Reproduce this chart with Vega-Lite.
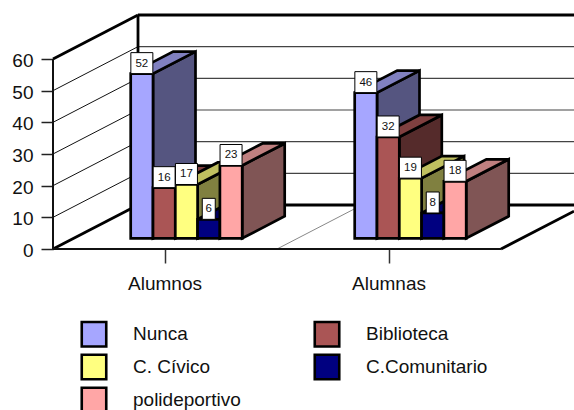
{
"$schema":"https://vega.github.io/schema/vega-lite/v6.json",
"width":574,"height":410,"padding":0,"autosize":{"type":"none"},
"background":"white",
"config":{"view":{"stroke":null},"font":"Liberation Sans"},
"datasets":{
"frameThick":[
{"x":53,"x2":138,"u":60,"u2":73.9},
{"x":138,"x2":574,"u":73.9,"u2":73.9},
{"x":138,"x2":138,"u":13.9,"u2":73.9},
{"x":53,"x2":138,"u":0,"u2":13.9},
{"x":138,"x2":574,"u":13.9,"u2":13.9},
{"x":501,"x2":574,"u":0,"u2":11.93}],
"frameMid":[
{"x":53,"x2":53,"u":0,"u2":60},
{"x":53,"x2":501,"u":0,"u2":0}],
"gridLeft":[
{"x":53,"x2":138,"u":10,"u2":23.9},
{"x":53,"x2":138,"u":20,"u2":33.9},
{"x":53,"x2":138,"u":30,"u2":43.9},
{"x":53,"x2":138,"u":40,"u2":53.9},
{"x":53,"x2":138,"u":50,"u2":63.9}],
"gridBack":[
{"x":138,"x2":574,"u":23.9,"u2":23.9},
{"x":138,"x2":574,"u":33.9,"u2":33.9},
{"x":138,"x2":574,"u":43.9,"u2":43.9},
{"x":138,"x2":574,"u":53.9,"u2":53.9},
{"x":138,"x2":574,"u":63.9,"u2":63.9}],
"divider":[{"x":277,"x2":362,"u":0,"u2":13.9}],
"faces":[
{"face":"o1s","surface":"Nunca lateral","k":1,"x":153.0,"u":55.38},{"face":"o1s","surface":"Nunca lateral","k":2,"x":195.5,"u":62.33},{"face":"o1s","surface":"Nunca lateral","k":3,"x":195.5,"u":10.33},{"face":"o1s","surface":"Nunca lateral","k":4,"x":153.0,"u":3.38},
{"face":"o1t","surface":"Nunca superior","k":1,"x":130.7,"u":55.38},{"face":"o1t","surface":"Nunca superior","k":2,"x":173.2,"u":62.33},{"face":"o1t","surface":"Nunca superior","k":3,"x":195.5,"u":62.33},{"face":"o1t","surface":"Nunca superior","k":4,"x":153.0,"u":55.38},
{"face":"o2s","surface":"Biblioteca lateral","k":1,"x":175.3,"u":19.38},{"face":"o2s","surface":"Biblioteca lateral","k":2,"x":217.8,"u":26.33},{"face":"o2s","surface":"Biblioteca lateral","k":3,"x":217.8,"u":10.33},{"face":"o2s","surface":"Biblioteca lateral","k":4,"x":175.3,"u":3.38},
{"face":"o2t","surface":"Biblioteca superior","k":1,"x":153.0,"u":19.38},{"face":"o2t","surface":"Biblioteca superior","k":2,"x":195.5,"u":26.33},{"face":"o2t","surface":"Biblioteca superior","k":3,"x":217.8,"u":26.33},{"face":"o2t","surface":"Biblioteca superior","k":4,"x":175.3,"u":19.38},
{"face":"o3s","surface":"C. Cívico lateral","k":1,"x":197.6,"u":20.38},{"face":"o3s","surface":"C. Cívico lateral","k":2,"x":240.1,"u":27.33},{"face":"o3s","surface":"C. Cívico lateral","k":3,"x":240.1,"u":10.33},{"face":"o3s","surface":"C. Cívico lateral","k":4,"x":197.6,"u":3.38},
{"face":"o3t","surface":"C. Cívico superior","k":1,"x":175.3,"u":20.38},{"face":"o3t","surface":"C. Cívico superior","k":2,"x":217.8,"u":27.33},{"face":"o3t","surface":"C. Cívico superior","k":3,"x":240.1,"u":27.33},{"face":"o3t","surface":"C. Cívico superior","k":4,"x":197.6,"u":20.38},
{"face":"o4s","surface":"C.Comunitario lateral","k":1,"x":219.9,"u":9.38},{"face":"o4s","surface":"C.Comunitario lateral","k":2,"x":262.4,"u":16.33},{"face":"o4s","surface":"C.Comunitario lateral","k":3,"x":262.4,"u":10.33},{"face":"o4s","surface":"C.Comunitario lateral","k":4,"x":219.9,"u":3.38},
{"face":"o4t","surface":"C.Comunitario superior","k":1,"x":197.6,"u":9.38},{"face":"o4t","surface":"C.Comunitario superior","k":2,"x":240.1,"u":16.33},{"face":"o4t","surface":"C.Comunitario superior","k":3,"x":262.4,"u":16.33},{"face":"o4t","surface":"C.Comunitario superior","k":4,"x":219.9,"u":9.38},
{"face":"o5s","surface":"polideportivo lateral","k":1,"x":242.2,"u":26.38},{"face":"o5s","surface":"polideportivo lateral","k":2,"x":284.7,"u":33.33},{"face":"o5s","surface":"polideportivo lateral","k":3,"x":284.7,"u":10.33},{"face":"o5s","surface":"polideportivo lateral","k":4,"x":242.2,"u":3.38},
{"face":"o5t","surface":"polideportivo superior","k":1,"x":219.9,"u":26.38},{"face":"o5t","surface":"polideportivo superior","k":2,"x":262.4,"u":33.33},{"face":"o5t","surface":"polideportivo superior","k":3,"x":284.7,"u":33.33},{"face":"o5t","surface":"polideportivo superior","k":4,"x":242.2,"u":26.38},
{"face":"a1s","surface":"Nunca lateral","k":1,"x":377.0,"u":49.38},{"face":"a1s","surface":"Nunca lateral","k":2,"x":419.5,"u":56.33},{"face":"a1s","surface":"Nunca lateral","k":3,"x":419.5,"u":10.33},{"face":"a1s","surface":"Nunca lateral","k":4,"x":377.0,"u":3.38},
{"face":"a1t","surface":"Nunca superior","k":1,"x":354.7,"u":49.38},{"face":"a1t","surface":"Nunca superior","k":2,"x":397.2,"u":56.33},{"face":"a1t","surface":"Nunca superior","k":3,"x":419.5,"u":56.33},{"face":"a1t","surface":"Nunca superior","k":4,"x":377.0,"u":49.38},
{"face":"a2s","surface":"Biblioteca lateral","k":1,"x":399.3,"u":35.38},{"face":"a2s","surface":"Biblioteca lateral","k":2,"x":441.8,"u":42.33},{"face":"a2s","surface":"Biblioteca lateral","k":3,"x":441.8,"u":10.33},{"face":"a2s","surface":"Biblioteca lateral","k":4,"x":399.3,"u":3.38},
{"face":"a2t","surface":"Biblioteca superior","k":1,"x":377.0,"u":35.38},{"face":"a2t","surface":"Biblioteca superior","k":2,"x":419.5,"u":42.33},{"face":"a2t","surface":"Biblioteca superior","k":3,"x":441.8,"u":42.33},{"face":"a2t","surface":"Biblioteca superior","k":4,"x":399.3,"u":35.38},
{"face":"a3s","surface":"C. Cívico lateral","k":1,"x":421.6,"u":22.38},{"face":"a3s","surface":"C. Cívico lateral","k":2,"x":464.1,"u":29.33},{"face":"a3s","surface":"C. Cívico lateral","k":3,"x":464.1,"u":10.33},{"face":"a3s","surface":"C. Cívico lateral","k":4,"x":421.6,"u":3.38},
{"face":"a3t","surface":"C. Cívico superior","k":1,"x":399.3,"u":22.38},{"face":"a3t","surface":"C. Cívico superior","k":2,"x":441.8,"u":29.33},{"face":"a3t","surface":"C. Cívico superior","k":3,"x":464.1,"u":29.33},{"face":"a3t","surface":"C. Cívico superior","k":4,"x":421.6,"u":22.38},
{"face":"a4s","surface":"C.Comunitario lateral","k":1,"x":443.9,"u":11.38},{"face":"a4s","surface":"C.Comunitario lateral","k":2,"x":486.4,"u":18.33},{"face":"a4s","surface":"C.Comunitario lateral","k":3,"x":486.4,"u":10.33},{"face":"a4s","surface":"C.Comunitario lateral","k":4,"x":443.9,"u":3.38},
{"face":"a4t","surface":"C.Comunitario superior","k":1,"x":421.6,"u":11.38},{"face":"a4t","surface":"C.Comunitario superior","k":2,"x":464.1,"u":18.33},{"face":"a4t","surface":"C.Comunitario superior","k":3,"x":486.4,"u":18.33},{"face":"a4t","surface":"C.Comunitario superior","k":4,"x":443.9,"u":11.38},
{"face":"a5s","surface":"polideportivo lateral","k":1,"x":466.2,"u":21.38},{"face":"a5s","surface":"polideportivo lateral","k":2,"x":508.7,"u":28.33},{"face":"a5s","surface":"polideportivo lateral","k":3,"x":508.7,"u":10.33},{"face":"a5s","surface":"polideportivo lateral","k":4,"x":466.2,"u":3.38},
{"face":"a5t","surface":"polideportivo superior","k":1,"x":443.9,"u":21.38},{"face":"a5t","surface":"polideportivo superior","k":2,"x":486.4,"u":28.33},{"face":"a5t","surface":"polideportivo superior","k":3,"x":508.7,"u":28.33},{"face":"a5t","surface":"polideportivo superior","k":4,"x":466.2,"u":21.38}
],
"bars":[
{"group":"Alumnos","series":"Nunca","value":52},
{"group":"Alumnos","series":"Biblioteca","value":16},
{"group":"Alumnos","series":"C. Cívico","value":17},
{"group":"Alumnos","series":"C.Comunitario","value":6},
{"group":"Alumnos","series":"polideportivo","value":23},
{"group":"Alumnas","series":"Nunca","value":46},
{"group":"Alumnas","series":"Biblioteca","value":32},
{"group":"Alumnas","series":"C. Cívico","value":19},
{"group":"Alumnas","series":"C.Comunitario","value":8},
{"group":"Alumnas","series":"polideportivo","value":18}
]},
"layer":[
{"encoding":{
  "x":{"field":"x","type":"quantitative","scale":{"domain":[0,574],"range":[0,574],"nice":false,"zero":false},"axis":null},
  "x2":{"field":"x2"},
  "y":{"field":"u","type":"quantitative","scale":{"domain":[-50.84,78.63],"range":[410,0],"nice":false,"zero":false},
    "axis":{"values":[0,10,20,30,40,50,60],"offset":-53,"grid":false,"domain":false,"title":null,"tickSize":12,"tickWidth":1.5,"tickColor":"#222","labelFontSize":19,"labelColor":"#111","labelPadding":8,"labelOffset":1.5,"labelFont":"Liberation Sans"}},
  "y2":{"field":"u2"}},
 "layer":[
  {"data":{"name":"divider"},"mark":{"type":"rule","stroke":"#888","strokeWidth":1}},
  {"data":{"name":"gridBack"},"mark":{"type":"rule","stroke":"#444","strokeWidth":1.2}},
  {"data":{"name":"gridLeft"},"mark":{"type":"rule","stroke":"#111","strokeWidth":1}},
  {"data":{"name":"frameThick"},"mark":{"type":"rule","stroke":"black","strokeWidth":2.8}},
  {"data":{"name":"frameMid"},"mark":{"type":"rule","stroke":"#111","strokeWidth":2}},
  {"data":{"name":"faces"},
   "mark":{"type":"line","stroke":"black","strokeWidth":2.7,"interpolate":"linear-closed","strokeJoin":"miter"},
   "encoding":{
    "x":{"field":"x","type":"quantitative"},
    "x2":null,"y2":null,
    "y":{"field":"u","type":"quantitative"},
    "detail":{"field":"face"},
    "order":{"field":"k","type":"quantitative"},
    "fill":{"field":"surface","type":"nominal","legend":null,"scale":{
      "domain":["Nunca lateral","Nunca superior","Biblioteca lateral","Biblioteca superior","C. Cívico lateral","C. Cívico superior","C.Comunitario lateral","C.Comunitario superior","polideportivo lateral","polideportivo superior"],
      "range":["#555580","#8080C0","#552B2B","#804040","#808040","#C0C060","#000040","#000060","#805555","#C08080"]}}
   }}
 ]},
{"data":{"name":"bars"},
 "encoding":{
  "x":{"field":"group","type":"nominal","sort":["Alumnos","Alumnas"],
    "scale":{"type":"band","domain":["Alumnos","Alumnas"],"range":[53,501],"paddingInner":0,"paddingOuter":0},
    "axis":{"orient":"bottom","offset":-161,"domain":false,"grid":false,"title":null,"tickSize":14,"tickWidth":1.5,"tickColor":"#333","labelAngle":0,"labelFontSize":19,"labelColor":"#111","labelPadding":11,"labelFont":"Liberation Sans"}},
  "xOffset":{"field":"series","type":"nominal","scale":{"type":"band","domain":["Nunca","Biblioteca","C. Cívico","C.Comunitario","polideportivo"],"range":[77.7,189.2],"paddingInner":0,"paddingOuter":0}},
  "y":{"field":"value","type":"quantitative","scale":{"domain":[-54.2,75.25],"range":[410,0],"nice":false,"zero":false},"axis":null}},
 "layer":[
  {"mark":{"type":"bar","stroke":"black","strokeWidth":2.7},
   "encoding":{"y2":{"datum":0},"fill":{"field":"series","type":"nominal","scale":{
     "domain":["Nunca","Biblioteca","C. Cívico","C.Comunitario","polideportivo"],
     "range":["#A6A6FF","#AA5555","#FFFF80","#000080","#FFA6A6"]},
     "legend":{"orient":"none","legendX":80,"legendY":320,"direction":"horizontal","columns":2,"title":null,"symbolType":"square","symbolSize":600,"symbolStrokeColor":"black","symbolStrokeWidth":2.6,"symbolOpacity":1,"labelFontSize":19,"labelColor":"#111","labelFont":"Liberation Sans","labelOffset":25,"rowPadding":-3,"columnPadding":68,"labelLimit":200}}}},
  {"transform":[{"filter":"datum.value>=10"}],"mark":{"type":"rect","fill":"white","stroke":"black","strokeWidth":1,"width":22,"height":21,"yOffset":-10.5}},
  {"transform":[{"filter":"datum.value<10"}],"mark":{"type":"rect","fill":"white","stroke":"black","strokeWidth":1,"width":13,"height":21,"yOffset":-10.5}},
  {"mark":{"type":"text","fontSize":11.5,"fill":"#111","font":"Liberation Sans","baseline":"middle","align":"center","yOffset":-10},
   "encoding":{"text":{"field":"value","type":"quantitative"}}}
 ]}
],
"resolve":{"scale":{"x":"independent","y":"independent","fill":"independent","xOffset":"independent"},"axis":{"x":"independent","y":"independent"}}
}
